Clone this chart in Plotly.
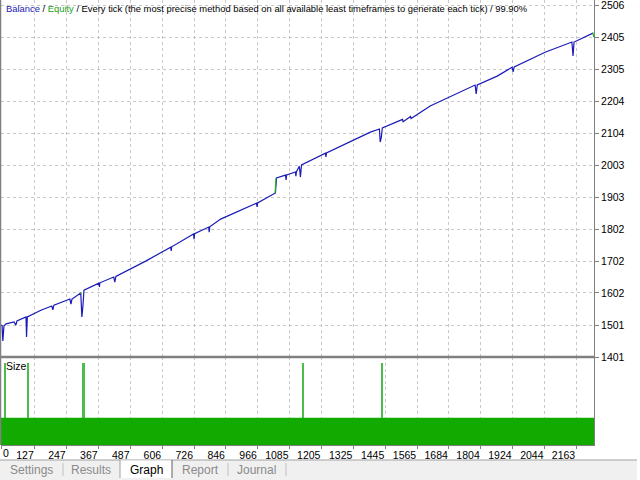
import plotly.graph_objects as go

# ---------------- data ----------------
# balance curve key points (trade number, balance)
bal_trades = [0, 4, 7, 11, 19, 49, 56, 60, 94, 96, 99, 150, 191, 195, 199, 259, 263, 267,
              300, 302, 304, 308, 312, 368, 370, 372, 424, 428, 432, 544, 638, 640, 642,
              724, 726, 728, 781, 783, 785, 826, 961, 963, 965, 1032, 1036, 1070, 1072, 1074,
              1107, 1109, 1111, 1122, 1126, 1130, 1220, 1222, 1224, 1389, 1423, 1426, 1430, 1434,
              1502, 1510, 1512, 1540, 1542, 1614, 1783, 1787, 1791, 1866, 1922, 1926, 1930,
              2046, 2147, 2151, 2155, 2226]
bal_values = [1501, 1500, 1451, 1498, 1505, 1511, 1501, 1514, 1527, 1464, 1527, 1548, 1561, 1549, 1564, 1583, 1567, 1583,
              1602, 1540, 1527, 1560, 1611, 1633, 1621, 1634, 1652, 1636, 1654, 1702, 1746, 1734, 1747,
              1787, 1771, 1788, 1809, 1793, 1810, 1834, 1884, 1872, 1885, 1916, 1963, 1972, 1957, 1973,
              1982, 1969, 1983, 2000, 1966, 2004, 2041, 2029, 2042, 2107, 2117, 2076, 2090, 2120,
              2145, 2147, 2140, 2156, 2150, 2189, 2255, 2227, 2255, 2283, 2311, 2296, 2312,
              2358, 2390, 2346, 2390, 2418]
# equity: only the segments where it departs from the balance line (None = gap)
eq_trades = [298, 300, 302, None, 1030, 1031, 1034, None, 2224, 2226, 2229]
eq_values = [1600, 1603, 1600, None, 1916, 1918, 1962, None, 2417, 2419, 2405]

# lot size panel
base_lot = 0.01
spike_trades = [15, 101, 307, 312, 1134, 1432]
spike_sizes = [0.03, 0.03, 0.03, 0.03, 0.03, 0.03]

x_ticks = [0, 127, 247, 367, 487, 606, 726, 846, 966, 1085, 1205, 1325, 1445, 1565,
           1684, 1804, 1924, 2044, 2163]
y_ticks = [1401, 1501, 1602, 1702, 1802, 1903, 2003, 2104, 2204, 2305, 2405, 2506]
tabs = ["Settings", "Results", "Graph", "Report", "Journal"]
title_parts = ["Balance", "Equity",
               "Every tick (the most precise method based on all available least timeframes to generate each tick)",
               "99.90%"]

# ---------------- layout helpers ----------------
W, H = 640, 480
ML, MR, MT, MB = 1, 46, 0, 35
PW, PH = W - ML - MR, H - MT - MB
X_MAX = 2230


def px(x):
    return (x - ML) / PW


def py(y):
    return (H - MB - y) / PH


split = py(357)
FONT = "Liberation Sans"
GRID = "#c8c8c8"
AXC = "#808080"

fig = go.Figure()
fig.add_trace(go.Scatter(x=bal_trades, y=bal_values, mode="lines",
                         line=dict(color="#1a1ab8", width=1.2), xaxis="x", yaxis="y",
                         hoverinfo="skip"))
fig.add_trace(go.Scatter(x=eq_trades, y=eq_values, mode="lines", connectgaps=False,
                         line=dict(color="#22b022", width=1.2), xaxis="x", yaxis="y",
                         hoverinfo="skip"))
# base lot size fill
fig.add_trace(go.Scatter(x=[0, X_MAX], y=[base_lot, base_lot], mode="lines", fill="tozeroy",
                         fillcolor="#13aa00", line=dict(color="#13aa00", width=0),
                         xaxis="x2", yaxis="y2", hoverinfo="skip"))
fig.add_trace(go.Bar(x=spike_trades, y=spike_sizes, width=4, marker=dict(color="#4cbc4c", line_width=0),
                     xaxis="x2", yaxis="y2", hoverinfo="skip"))

axis_font = dict(family=FONT, size=10.5, color="#000000")
fig.update_layout(
    width=W, height=H, margin=dict(l=ML, r=MR, t=MT, b=MB, autoexpand=False),
    paper_bgcolor="white", plot_bgcolor="white", showlegend=False, bargap=0,
    xaxis=dict(domain=[0, 1], range=[0, X_MAX], anchor="y", tickvals=x_ticks,
               showticklabels=False, ticks="", showgrid=True, gridcolor=GRID, griddash="dot",
               gridwidth=1, zeroline=False, showline=False),
    xaxis2=dict(domain=[0, 1], range=[0, X_MAX], anchor="y2", matches="x", tickvals=x_ticks,
                ticktext=[str(v) for v in x_ticks], ticks="outside", ticklen=3, tickcolor=AXC,
                ticklabelposition="outside left", tickangle=0, tickfont=axis_font,
                showgrid=True, gridcolor=GRID, griddash="dot", gridwidth=1, zeroline=False,
                showline=True, linecolor=AXC, linewidth=1),
    yaxis=dict(domain=[split, 1], range=[1401, 2522], side="right", anchor="x",
               tickvals=y_ticks, ticktext=[str(v) for v in y_ticks], ticks="outside", ticklen=4,
               tickcolor=AXC, tickfont=axis_font, ticklabeloverflow="allow", showgrid=True,
               gridcolor=GRID, griddash="dot", gridwidth=1, zeroline=False, showline=True,
               linecolor=AXC, linewidth=1),
    yaxis2=dict(domain=[0, split], range=[0, 0.0322], side="right", anchor="x2",
                showticklabels=False, ticks="", showgrid=False, zeroline=False,
                showline=True, linecolor=AXC, linewidth=1),
)

shapes = []
# separator between panels
shapes.append(dict(type="line", xref="paper", yref="paper", x0=px(0), x1=1, y0=split, y1=split,
                   line=dict(color=AXC, width=2.5)))
# left border
shapes.append(dict(type="line", xref="paper", yref="paper", x0=px(0.5), x1=px(0.5), y0=0, y1=1,
                   line=dict(color=AXC, width=1.5)))
# tab bar
shapes.append(dict(type="rect", xref="paper", yref="paper", x0=px(0), x1=px(637), y0=py(460), y1=py(480),
                   fillcolor="#f0f0f0", line=dict(width=0), layer="below"))
shapes.append(dict(type="line", xref="paper", yref="paper", x0=px(0), x1=px(637), y0=py(460), y1=py(460),
                   line=dict(color="#a0a0a0", width=1)))
shapes.append(dict(type="rect", xref="paper", yref="paper", x0=px(120), x1=px(172), y0=py(460.5), y1=py(478),
                   fillcolor="#ffffff", line=dict(width=0)))
shapes.append(dict(type="line", xref="paper", yref="paper", x0=px(120), x1=px(120), y0=py(460), y1=py(478),
                   line=dict(color="#a0a0a0", width=1)))
shapes.append(dict(type="line", xref="paper", yref="paper", x0=px(172), x1=px(172), y0=py(460), y1=py(478),
                   line=dict(color="#606060", width=1)))
for sx in [63, 228, 286]:
    shapes.append(dict(type="line", xref="paper", yref="paper", x0=px(sx), x1=px(sx), y0=py(463), y1=py(476),
                       line=dict(color="#c0c0c0", width=1)))
fig.update_layout(shapes=shapes)

ann = []
title = (f"<span style='color:#1a1ab8'>{title_parts[0]}</span> / "
         f"<span style='color:#22a022'>{title_parts[1]}</span> / {title_parts[2]} / {title_parts[3]}")
ann.append(dict(text=title, xref="paper", yref="paper", x=px(4), y=py(9), xanchor="left",
                yanchor="middle", showarrow=False, font=dict(family=FONT, size=9.4, color="#000000")))
ann.append(dict(text="Size", xref="paper", yref="paper", x=px(4), y=py(366), xanchor="left",
                yanchor="middle", showarrow=False, font=dict(family=FONT, size=10.5, color="#000000")))
ann.append(dict(text=str(x_ticks[0]), xref="paper", yref="paper", x=px(1), y=py(453), xanchor="left",
                yanchor="middle", showarrow=False, font=axis_font))
tab_x = [31, 91, 146, 200, 256]
for t, cx in zip(tabs, tab_x):
    ann.append(dict(text=t, xref="paper", yref="paper", x=px(cx), y=py(470), xanchor="center",
                    yanchor="middle", showarrow=False,
                    font=dict(family=FONT, size=12, color="#000000" if t == "Graph" else "#8a8a8a")))
fig.update_layout(annotations=ann)

fig.write_html("out.html", config={"displayModeBar": False},
               post_script="document.body.style.margin='0';document.body.style.overflow='hidden';")
